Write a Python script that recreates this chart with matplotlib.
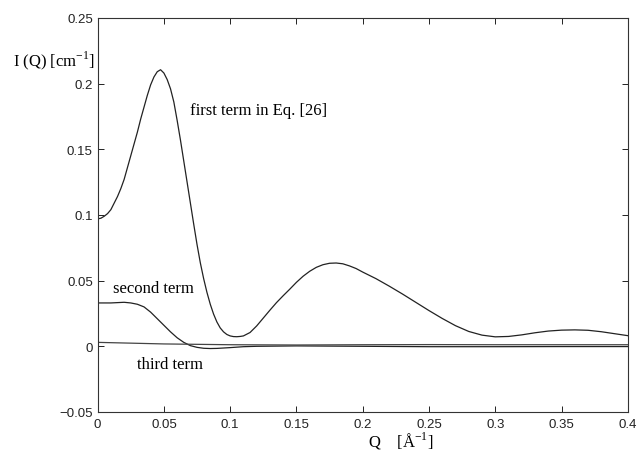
import numpy as np
import matplotlib
matplotlib.use('Agg')
import matplotlib.pyplot as plt

# values
q1 = [0, 0.0025, 0.005, 0.0075, 0.01, 0.0125, 0.015, 0.0175, 0.02, 0.0225, 0.025,
      0.0275, 0.03, 0.0325, 0.035, 0.0375, 0.04, 0.0425, 0.045, 0.0475, 0.05, 0.0525,
      0.055, 0.0575, 0.06, 0.0625, 0.065, 0.0675, 0.07, 0.0725, 0.075, 0.0775, 0.08,
      0.0825, 0.085, 0.0875, 0.09, 0.0925, 0.095, 0.0975, 0.1, 0.1025, 0.105, 0.1075,
      0.11, 0.115, 0.12, 0.125, 0.13,
      0.135, 0.14, 0.145, 0.15, 0.155, 0.16, 0.165, 0.17, 0.175, 0.18, 0.185, 0.19,
      0.195, 0.2, 0.21, 0.22, 0.23, 0.24, 0.25, 0.26, 0.27, 0.28, 0.29, 0.3, 0.31,
      0.32, 0.33, 0.34, 0.35, 0.36, 0.37, 0.38, 0.39, 0.4]
first = [0.097, 0.0975, 0.099, 0.101, 0.104, 0.109, 0.114, 0.120, 0.127, 0.136, 0.145,
         0.154, 0.163, 0.173, 0.182, 0.191, 0.199, 0.205, 0.209, 0.2105, 0.208, 0.203,
         0.196, 0.186, 0.172, 0.157, 0.141, 0.125, 0.109, 0.093, 0.0775, 0.0635, 0.0515,
         0.041, 0.032, 0.0245, 0.0185, 0.014, 0.011, 0.009, 0.0079, 0.0074, 0.0073, 0.0075,
         0.0079, 0.0105, 0.0155, 0.0215, 0.0275,
         0.0333, 0.0385, 0.0435, 0.0487, 0.0533, 0.0571, 0.0601, 0.0621, 0.0632, 0.0634, 0.0628, 0.0612,
         0.0592, 0.0565, 0.0515, 0.0458, 0.0398, 0.0335, 0.0272, 0.0212, 0.0157, 0.0113, 0.0085, 0.0072, 0.0075,
         0.0087, 0.0103, 0.0116, 0.0123, 0.0125, 0.0122, 0.0111, 0.0096, 0.0081]

q2 = [0, 0.01, 0.02, 0.025, 0.03, 0.035, 0.04, 0.045, 0.05, 0.055, 0.06, 0.065,
      0.07, 0.075, 0.08, 0.085, 0.09, 0.1, 0.11, 0.12, 0.15, 0.2, 0.25, 0.3, 0.35, 0.4]
second = [0.033, 0.033, 0.0335, 0.033, 0.032, 0.030, 0.026, 0.021, 0.016, 0.011, 0.0065, 0.003,
          0.0005, -0.0008, -0.0015, -0.0017, -0.0016, -0.001, -0.0003, 0.0, 0.0003, 0.0, -0.0003,
          -0.0003, -0.0002, -0.0002]

q3 = [0, 0.05, 0.1, 0.15, 0.2, 0.25, 0.3, 0.35, 0.4]
third = [0.003, 0.0018, 0.0012, 0.001, 0.0012, 0.0013, 0.0012, 0.0012, 0.0012]

serif = 'Liberation Serif'
plt.rcParams['font.family'] = 'Liberation Sans'

fig = plt.figure(figsize=(6.38, 4.52), dpi=100)
ax = fig.add_axes([0.153, 0.0863, 0.831, 0.872])

ax.plot(q1, first, color='#222222', lw=0.9)
ax.plot(q2, second, color='#222222', lw=0.9)
ax.plot(q3, third, color='#444444', lw=0.9)

ax.set_xlim(0, 0.4)
ax.set_ylim(-0.05, 0.25)
ax.set_xticks([0, 0.05, 0.1, 0.15, 0.2, 0.25, 0.3, 0.35, 0.4])
ax.set_xticklabels(['0', '0.05', '0.1', '0.15', '0.2', '0.25', '0.3', '0.35', '0.4'])
ax.set_yticks([-0.05, 0, 0.05, 0.1, 0.15, 0.2, 0.25])
ax.set_yticklabels(['\u22120.05', '0', '0.05', '0.1', '0.15', '0.2', '0.25'])
ax.tick_params(direction='in', length=4, width=0.7, top=True, right=True,
               labelsize=9.5, colors='#222222')
ax.tick_params(axis='x', pad=4)
for s in ax.spines.values():
    s.set_linewidth(0.8)
    s.set_color('#333333')

ax.text(0.0695, 0.1795, 'first term in Eq. [26]', family=serif, fontsize=12, va='center')
ax.text(0.0115, 0.0445, 'second term', family=serif, fontsize=12, va='center')
ax.text(0.0295, -0.0135, 'third term', family=serif, fontsize=12, va='center')

fig.text(12.7 / 638, 1 - 61 / 452, 'I (Q) [cm$^{\\mathregular{-1}}$]', family=serif,
         fontsize=12, va='center', ha='left')
fig.text(368 / 638, 1 - 441 / 452, 'Q    [\u00c5$^{\\mathregular{-1}}$]', family=serif,
         fontsize=12, va='center', ha='left')

fig.savefig('out.png', dpi=100)
